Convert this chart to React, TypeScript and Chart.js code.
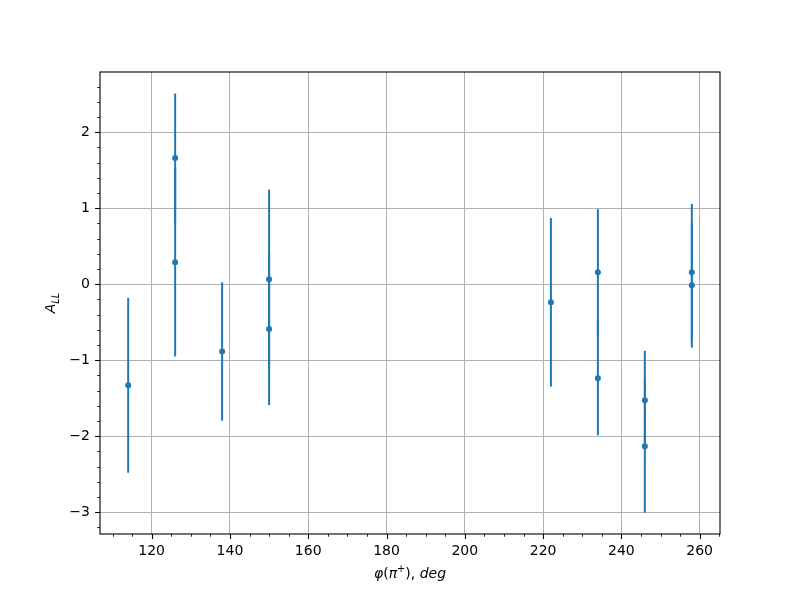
import React, { useEffect, useRef } from 'react';
import { Chart, registerables } from 'chart.js';

Chart.register(...registerables);

// phi(pi+) in degrees
const phi = [114, 126, 126, 138, 150, 150, 222, 234, 234, 246, 246, 258, 258];
// A_LL values
const aLL = [-1.33, 1.66, 0.29, -0.885, 0.066, -0.59, -0.237, 0.158, -1.237, -1.526, -2.13, 0.158, -0.013];
// symmetric errors
const aErr = [1.15, 0.85, 1.24, 0.91, 1.18, 1.0, 1.11, 0.83, 0.75, 0.65, 0.875, 0.9, 0.82];

const xTicks = [120, 140, 160, 180, 200, 220, 240, 260];
const yTicks = [-3, -2, -1, 0, 1, 2];
const xMinorStep = 5;
const yMinorStep = 0.2;

const X_MIN = 106.8;
const X_MAX = 265.2;
const Y_MIN = -3.286;
const Y_MAX = 2.793;

const BLUE = '#1f77b4';
const FONT = "'DejaVu Sans', sans-serif";

function fmt(v: number): string {
  return v < 0 ? '\u2212' + Math.abs(v) : String(v);
}

type Part = { t: string; it?: boolean; sub?: boolean; sup?: boolean };

function drawParts(ctx: CanvasRenderingContext2D, parts: Part[], cx: number, baseline: number, size: number) {
  const fontFor = (p: Part) => {
    const s = p.sub || p.sup ? size * 0.7 : size;
    return `${p.it ? 'italic ' : ''}${s}px ${FONT}`;
  };
  let total = 0;
  for (const p of parts) {
    ctx.font = fontFor(p);
    total += ctx.measureText(p.t).width;
  }
  let x = cx - total / 2;
  ctx.textAlign = 'left';
  ctx.textBaseline = 'alphabetic';
  for (const p of parts) {
    ctx.font = fontFor(p);
    let y = baseline;
    if (p.sub) y += size * 0.25;
    if (p.sup) y -= size * 0.4;
    ctx.fillText(p.t, x, y);
    x += ctx.measureText(p.t).width;
  }
}

const decorPlugin = {
  id: 'decor',
  beforeDatasetsDraw(chart: any) {
    const { ctx, chartArea, scales } = chart;
    const xs = scales.x;
    const ys = scales.y;
    ctx.save();
    ctx.beginPath();
    ctx.rect(chartArea.left, chartArea.top, chartArea.right - chartArea.left, chartArea.bottom - chartArea.top);
    ctx.clip();
    ctx.strokeStyle = BLUE;
    ctx.lineWidth = 2;
    for (let i = 0; i < phi.length; i++) {
      const px = xs.getPixelForValue(phi[i]);
      const y1 = ys.getPixelForValue(aLL[i] + aErr[i]);
      const y2 = ys.getPixelForValue(aLL[i] - aErr[i]);
      ctx.beginPath();
      ctx.moveTo(px, y1);
      ctx.lineTo(px, y2);
      ctx.stroke();
    }
    ctx.restore();
  },
  afterDraw(chart: any) {
    const { ctx, chartArea, scales } = chart;
    const xs = scales.x;
    const ys = scales.y;
    const { left, right, top, bottom } = chartArea;
    ctx.save();
    ctx.strokeStyle = '#000';
    // major ticks
    ctx.lineWidth = 1.1;
    ctx.beginPath();
    for (const v of xTicks) {
      const px = Math.round(xs.getPixelForValue(v)) + 0.5;
      ctx.moveTo(px, bottom);
      ctx.lineTo(px, bottom + 4.9);
    }
    for (const v of yTicks) {
      const py = Math.round(ys.getPixelForValue(v)) + 0.5;
      ctx.moveTo(left, py);
      ctx.lineTo(left - 4.9, py);
    }
    ctx.stroke();
    // minor ticks
    ctx.lineWidth = 0.8;
    ctx.beginPath();
    const xStart = Math.ceil(X_MIN / xMinorStep) * xMinorStep;
    for (let v = xStart; v <= X_MAX; v += xMinorStep) {
      if (xTicks.includes(v)) continue;
      const px = Math.round(xs.getPixelForValue(v)) + 0.5;
      ctx.moveTo(px, bottom);
      ctx.lineTo(px, bottom + 2.8);
    }
    const yStartIdx = Math.ceil(Y_MIN / yMinorStep);
    for (let k = yStartIdx; k * yMinorStep <= Y_MAX; k++) {
      if (k % 5 === 0) continue;
      const v = k * yMinorStep;
      const py = Math.round(ys.getPixelForValue(v)) + 0.5;
      ctx.moveTo(left, py);
      ctx.lineTo(left - 2.8, py);
    }
    ctx.stroke();
    // frame
    ctx.lineWidth = 1.1;
    ctx.strokeRect(left, top, right - left, bottom - top);
    // axis labels
    ctx.fillStyle = '#000';
    drawParts(
      ctx,
      [
        { t: '\u03c6', it: true },
        { t: '(' },
        { t: '\u03c0', it: true },
        { t: '+', sup: true },
        { t: '),' },
        { t: ' deg', it: true },
      ],
      (left + right) / 2,
      578,
      14
    );
    ctx.save();
    ctx.translate(55, (top + bottom) / 2);
    ctx.rotate(-Math.PI / 2);
    drawParts(ctx, [{ t: 'A', it: true }, { t: 'LL', it: true, sub: true }], 0, 0, 14);
    ctx.restore();
    ctx.restore();
  },
};

export default function App() {
  const ref = useRef<HTMLCanvasElement | null>(null);
  useEffect(() => {
    if (!ref.current) return;
    const chart = new Chart(ref.current, {
      type: 'scatter',
      data: {
        datasets: [
          {
            data: phi.map((x, i) => ({ x, y: aLL[i] })),
            backgroundColor: BLUE,
            borderColor: BLUE,
            pointRadius: 3,
            pointBorderWidth: 0,
            pointHoverRadius: 3,
          },
        ],
      },
      options: {
        animation: false,
        responsive: false,
        events: [],
        layout: { padding: { left: 0, right: 80, top: 72, bottom: 0 } },
        plugins: { legend: { display: false }, tooltip: { enabled: false }, title: { display: false } },
        scales: {
          x: {
            type: 'linear',
            min: X_MIN,
            max: X_MAX,
            afterBuildTicks: (s: any) => {
              s.ticks = xTicks.map((v) => ({ value: v }));
            },
            afterFit: (s: any) => {
              s.height = 66;
            },
            grid: { color: '#b0b0b0', lineWidth: 1, drawTicks: false },
            border: { display: false },
            ticks: {
              color: '#000',
              font: { family: FONT, size: 14 },
              padding: 9,
              maxRotation: 0,
              autoSkip: false,
              callback: (v: any) => fmt(Number(v)),
            },
          },
          y: {
            type: 'linear',
            min: Y_MIN,
            max: Y_MAX,
            afterBuildTicks: (s: any) => {
              s.ticks = yTicks.map((v) => ({ value: v }));
            },
            afterFit: (s: any) => {
              s.width = 100;
            },
            grid: { color: '#b0b0b0', lineWidth: 1, drawTicks: false },
            border: { display: false },
            ticks: {
              color: '#000',
              font: { family: FONT, size: 14 },
              padding: 10,
              autoSkip: false,
              callback: (v: any) => fmt(Number(v)),
            },
          },
        },
      },
      plugins: [decorPlugin],
    });
    return () => chart.destroy();
  }, []);
  return (
    <div style={{ position: 'fixed', left: 0, top: 0, width: 800, height: 600, background: '#fff' }}>
      <canvas ref={ref} width={800} height={600} />
    </div>
  );
}
